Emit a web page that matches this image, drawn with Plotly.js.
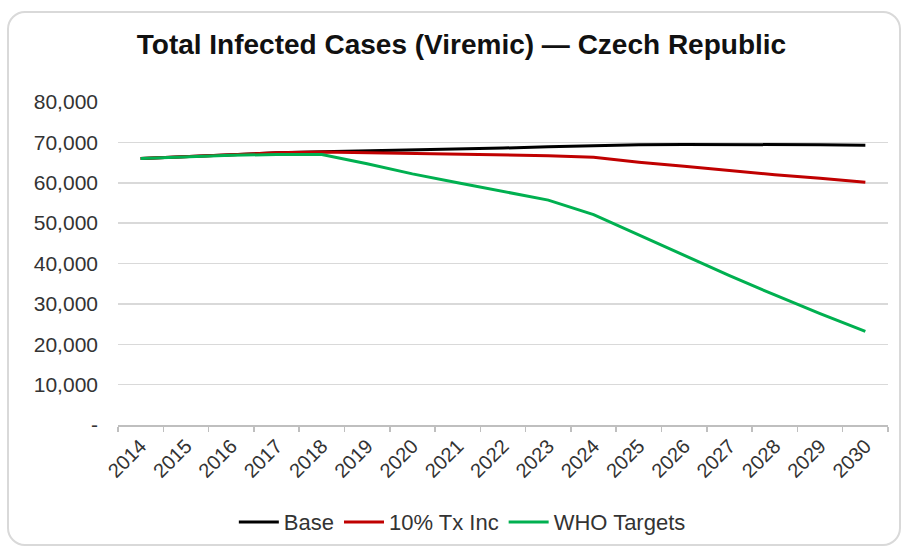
<!DOCTYPE html>
<html>
<head>
<meta charset="utf-8">
<script src="https://cdn.plot.ly/plotly-3.0.1.min.js"></script>
<style>
html,body{margin:0;padding:0;background:#fff;}
#wrap{position:relative;width:903px;height:549px;}
#chart{width:903px;height:549px;}
#frame{position:absolute;left:7px;top:11px;width:890px;height:531px;border:2px solid #d9d9d9;border-radius:18px;pointer-events:none;}
</style>
</head>
<body>
<div id="wrap"><div id="chart"></div><div id="frame"></div></div>
<script>
const years = ['2014','2015','2016','2017','2018','2019','2020','2021','2022','2023','2024','2025','2026','2027','2028','2029','2030'];
const baseCases = [66000,66500,67000,67400,67700,67900,68100,68300,68600,68900,69200,69400,69500,69500,69500,69400,69300];
const txIncCases = [66000,66500,67000,67400,67600,67400,67200,67000,66900,66700,66300,65100,64100,63000,62000,61100,60100];
const whoCases = [66000,66400,66800,67000,67000,64700,62200,60000,57800,55700,52100,47000,42000,37000,32200,27600,23200];
const yTickVals = [0,10000,20000,30000,40000,50000,60000,70000,80000];
const yTickText = ['-','10,000','20,000','30,000','40,000','50,000','60,000','70,000','80,000'];
const seriesNames = ['Base','10% Tx Inc','WHO Targets'];

const colors = ['#000000','#C00000','#00B050'];
const data = [baseCases, txIncCases, whoCases].map((v,i)=>({
  x: years, y: v, type:'scatter', mode:'lines', name: seriesNames[i],
  line:{color:colors[i], width:3}
}));

const layout = {
  width:903, height:549,
  margin:{l:118, r:15, t:102, b:124},
  paper_bgcolor:'rgba(0,0,0,0)', plot_bgcolor:'rgba(0,0,0,0)',
  font:{family:'"Liberation Sans", Arial, sans-serif', color:'#333333', size:20},
  title:{text:'<b>Total Infected Cases (Viremic) — Czech Republic</b>', x:0.511, xanchor:'center', y:0.92, yanchor:'middle', font:{size:28, color:'#111111'}},
  xaxis:{type:'category', range:[-0.5,16.5], tickson:'boundaries', ticks:'outside', ticklen:5, tickcolor:'#bfbfbf', tickwidth:1.5,
    showline:true, linecolor:'#bfbfbf', linewidth:1.5, showgrid:false, tickangle:-45, tickfont:{size:20}},
  yaxis:{range:[0,80000], tickvals:yTickVals, ticktext:yTickText, showgrid:true, gridcolor:'#d9d9d9', gridwidth:1.5,
    zeroline:false, showline:false, ticks:'', ticklabelstandoff:19, tickfont:{size:21}},
  showlegend:true,
  legend:{orientation:'h', xref:'container', yref:'container', x:0.512, xanchor:'center', y:0.049, yanchor:'middle', font:{size:22, color:'#333333'}, itemwidth:40, traceorder:'normal'}
};
Plotly.newPlot('chart', data, layout, {displayModeBar:false, staticPlot:true});
</script>
</body>
</html>
